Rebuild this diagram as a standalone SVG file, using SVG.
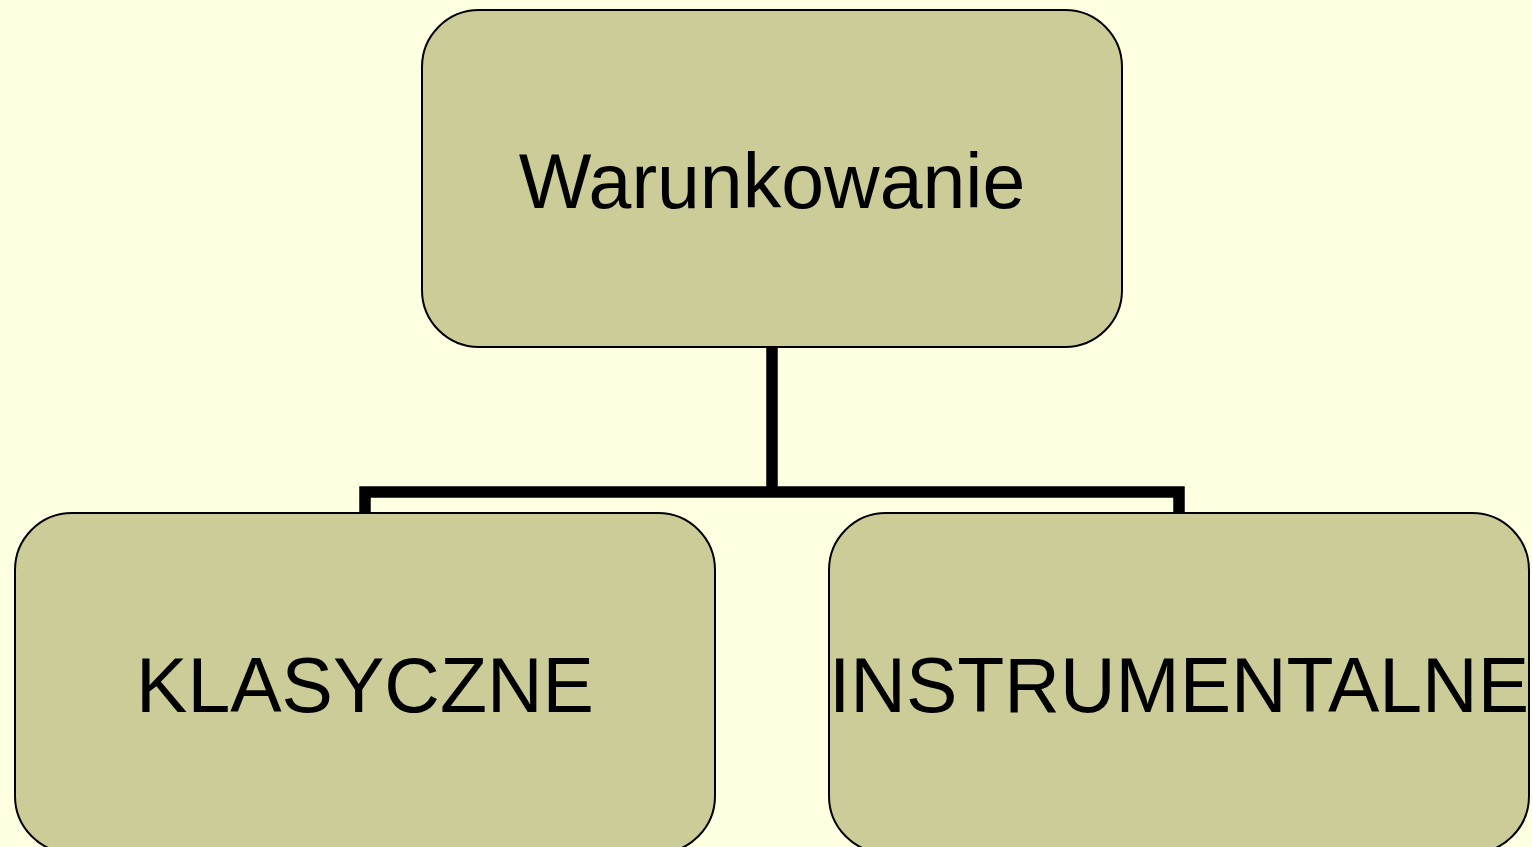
<svg xmlns="http://www.w3.org/2000/svg" width="1532" height="847" viewBox="0 0 1532 847">
<style>
.box{fill:#CCCC99;stroke:#000;stroke-width:2}
.lbl{font-family:"Liberation Sans",Arial,sans-serif;font-size:77px;fill:#000;text-anchor:middle}
.conn{fill:none;stroke:#000;stroke-width:11.5}
</style>
<rect width="1532" height="847" fill="#FFFFE1"/>
<g id="connectors">
<path class="conn" d="M772 347 V492"/>
<path class="conn" d="M365 513 V492 H1179 V513"/>
</g>
<g id="node-warunkowanie">
<rect class="box" x="422" y="10" width="700" height="337" rx="57" ry="57"/>
<text class="lbl" x="772" y="208">Warunkowanie</text>
</g>
<g id="node-klasyczne">
<rect class="box" x="15" y="513" width="700" height="340" rx="57" ry="57"/>
<text class="lbl" x="365" y="712">KLASYCZNE</text>
</g>
<g id="node-instrumentalne">
<rect class="box" x="829" y="513" width="700" height="340" rx="57" ry="57"/>
<text class="lbl" x="1179" y="712">INSTRUMENTALNE</text>
</g>
</svg>
